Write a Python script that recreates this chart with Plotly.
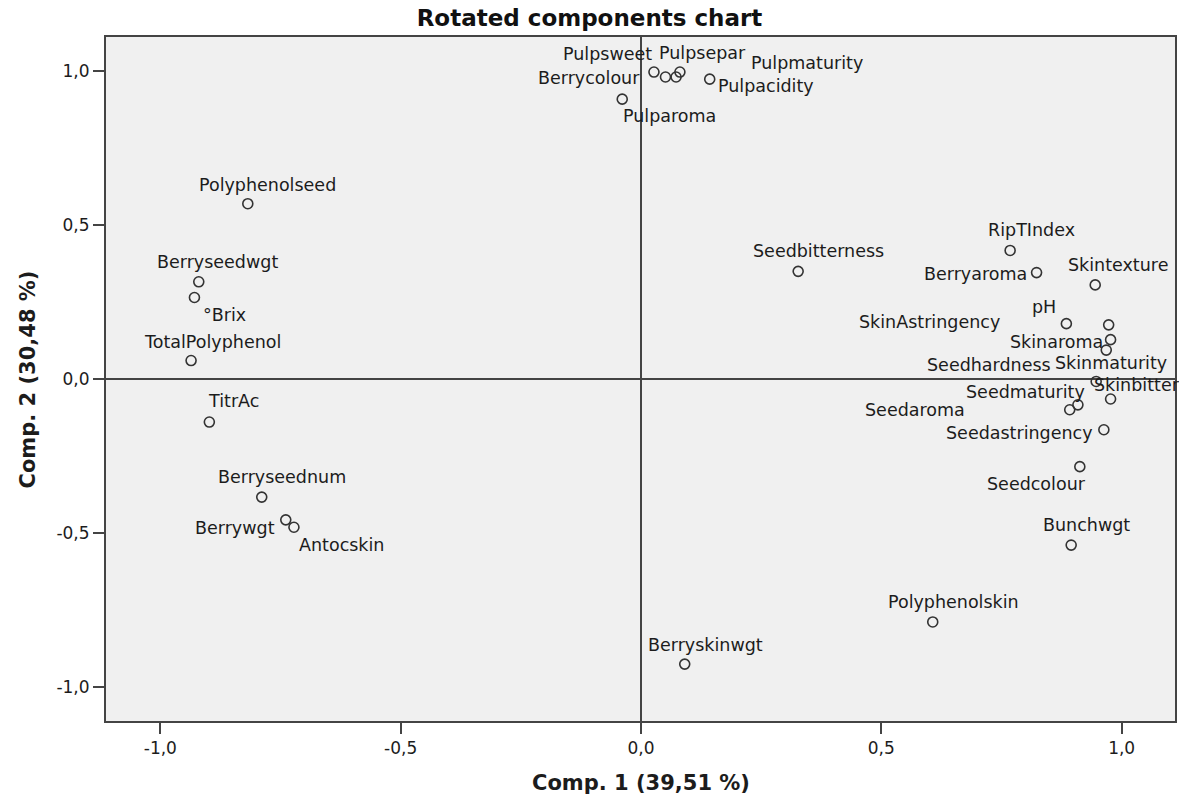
import plotly.graph_objects as go

# Rotated component loadings (Comp. 1, Comp. 2) for each variable
variables = [
    "Pulpsweet", "Berrycolour", "Pulpmaturity", "Pulpsepar", "Pulpacidity", "Pulparoma",
    "RipTIndex", "Seedbitterness", "Berryaroma", "Skintexture", "pH", "SkinAstringency",
    "Skinaroma", "Seedhardness", "Skinmaturity", "Skinbitter", "Seedmaturity", "Seedaroma",
    "Seedastringency", "Seedcolour", "Bunchwgt", "Polyphenolskin", "Berryskinwgt",
    "Polyphenolseed", "Berryseedwgt", "°Brix", "TotalPolyphenol", "TitrAc",
    "Berryseednum", "Berrywgt", "Antocskin",
]
comp1 = [
    0.027, 0.051, 0.073, 0.081, 0.143, -0.039,
    0.768, 0.327, 0.823, 0.945, 0.885, 0.973,
    0.977, 0.968, 0.947, 0.977, 0.909, 0.892,
    0.963, 0.913, 0.895, 0.607, 0.091,
    -0.818, -0.920, -0.929, -0.936, -0.898,
    -0.789, -0.739, -0.722,
]
comp2 = [
    0.998, 0.982, 0.982, 0.998, 0.975, 0.910,
    0.418, 0.350, 0.346, 0.306, 0.180, 0.176,
    0.128, 0.094, -0.008, -0.065, -0.084, -0.100,
    -0.165, -0.285, -0.540, -0.790, -0.927,
    0.570, 0.316, 0.265, 0.060, -0.140,
    -0.384, -0.458, -0.482,
]

tick_vals = [-1.0, -0.5, 0.0, 0.5, 1.0]
tick_text = ["-1,0", "-0,5", "0,0", "0,5", "1,0"]

title_text = "Rotated components chart"
x_title = "Comp. 1 (39,51 %)"
y_title = "Comp. 2 (30,48 %)"

# Label placement around each marker: (anchor side, x offset px, y offset px)
LABEL_PLACEMENT = {
    "Pulpsweet": ("right", 0, 18), "Berrycolour": ("right", -23, -1),
    "Pulpmaturity": ("left", 73, 14), "Pulpsepar": ("left", -23, 19),
    "Pulpacidity": ("left", 6, -7), "Pulparoma": ("left", -1, -17),
    "RipTIndex": ("left", -24, 20), "Seedbitterness": ("left", -47, 20),
    "Berryaroma": ("right", -8, -1), "Skintexture": ("left", -29, 20),
    "pH": ("right", -8, 17), "SkinAstringency": ("right", -107, 3),
    "Skinaroma": ("right", -6, -2), "Seedhardness": ("right", -53, -15),
    "Skinmaturity": ("left", -43, 18), "Skinbitter": ("left", -19, 14),
    "Seedmaturity": ("right", 9, 13), "Seedaroma": ("right", -103, 0),
    "Seedastringency": ("right", -9, -3), "Seedcolour": ("right", 8, -17),
    "Bunchwgt": ("left", -30, 20), "Polyphenolskin": ("left", -47, 20),
    "Berryskinwgt": ("left", -39, 19), "Polyphenolseed": ("left", -51, 19),
    "Berryseedwgt": ("left", -44, 20), "°Brix": ("left", 7, -17),
    "TotalPolyphenol": ("left", -49, 19), "TitrAc": ("left", -3, 21),
    "Berryseednum": ("left", -46, 20), "Berrywgt": ("right", -9, -8),
    "Antocskin": ("left", 3, -18),
}

FONT = "DejaVu Sans"
TEXT_COLOR = "#1c1c1c"
LINE_COLOR = "#444444"

fig = go.Figure()
fig.add_trace(go.Scatter(
    x=comp1, y=comp2, mode="markers",
    marker=dict(symbol="circle-open", size=10, color="#333333", line=dict(width=1.6)),
    hoverinfo="text", text=variables, showlegend=False,
))

annotations = []
for name, cx, cy in zip(variables, comp1, comp2):
    side, dx, dy = LABEL_PLACEMENT[name]
    annotations.append(dict(
        x=cx, y=cy, xref="x", yref="y", text=name, showarrow=False,
        xanchor=side, yanchor="middle", xshift=dx, yshift=dy,
        font=dict(family=FONT, size=17.5, color=TEXT_COLOR),
    ))

# Axis titles
annotations.append(dict(
    x=0.5, y=-0.0907, xref="paper", yref="paper", text=f"<b>{x_title}</b>",
    showarrow=False, xanchor="center", yanchor="middle",
    font=dict(family=FONT, size=21, color=TEXT_COLOR),
))
annotations.append(dict(
    x=-0.0725, y=0.5, xref="paper", yref="paper", text=f"<b>{y_title}</b>",
    showarrow=False, xanchor="center", yanchor="middle", textangle=-90,
    font=dict(family=FONT, size=21, color=TEXT_COLOR),
))

axis_common = dict(
    tickvals=tick_vals, ticktext=tick_text,
    showgrid=False, zeroline=True, zerolinecolor=LINE_COLOR, zerolinewidth=2,
    showline=True, linecolor=LINE_COLOR, linewidth=2, mirror=True,
    ticks="outside", ticklen=11, tickwidth=2, tickcolor=LINE_COLOR,
    tickfont=dict(family=FONT, size=17, color=TEXT_COLOR),
)

fig.update_layout(
    width=1179, height=798,
    margin=dict(l=106, r=2, t=37, b=77),
    paper_bgcolor="white", plot_bgcolor="#f0f0f0",
    title=dict(text=f"<b>{title_text}</b>", x=0.5, xref="container", xanchor="center",
               y=1 - 18 / 798, yanchor="middle",
               font=dict(family=FONT, size=23, color="#111111")),
    xaxis=dict(range=[-1.113, 1.111], **axis_common),
    yaxis=dict(range=[-1.112, 1.112], **axis_common),
    annotations=annotations,
)

fig.write_html("out.html")
